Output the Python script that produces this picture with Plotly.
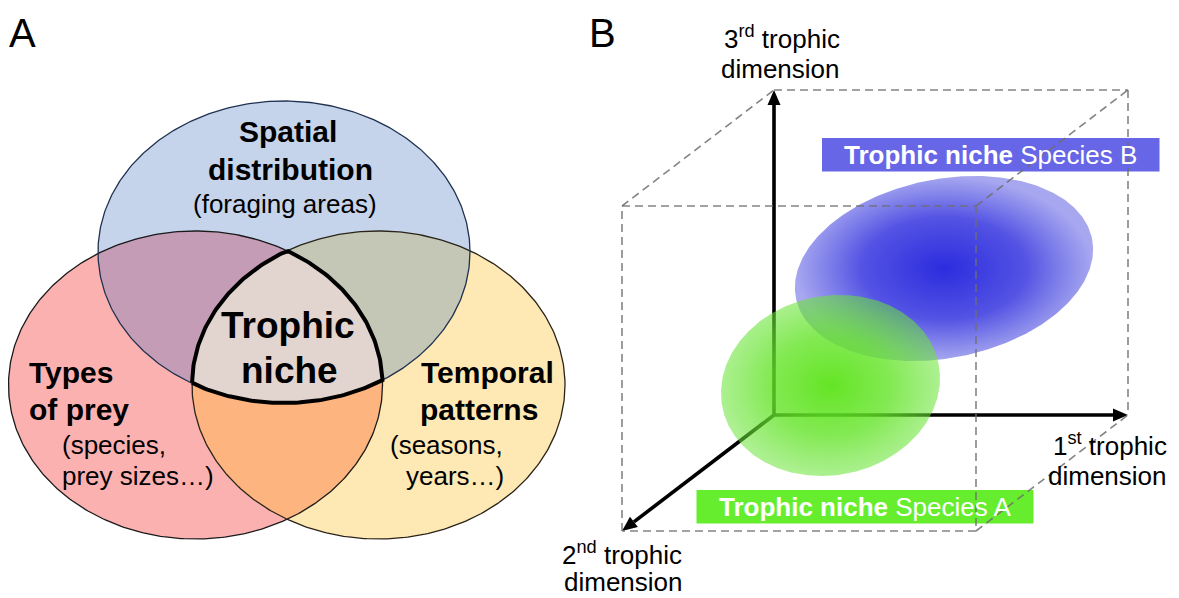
import numpy as np
import plotly.graph_objects as go

# ---------------- data ----------------
# Panel A: Venn sets (ellipse centre x/y, radii in px of the 1179x598 canvas)
SET_NAMES = ["Spatial distribution", "Types of prey", "Temporal patterns"]
SET_CX = [284.0, 195.5, 378.5]
SET_CY = [252.0, 385.0, 385.0]
SET_RX = [186.0, 187.0, 186.5]
SET_RY = [151.0, 154.0, 154.0]
SET_COLORS = ["#C5D3EB", "#FCB1B1", "#FEE8B4"]
PAIR_COLORS = {"01": "#C49CB6", "02": "#C4C6B6", "12": "#FDB47E"}
CORE_COLOR = "#E2D4CE"

# Panel B: niche ellipses (centre, semi-axes, tilt in degrees)
NICHE_NAMES = ["Species B", "Species A"]
NICHE_CX = [944.0, 830.5]
NICHE_CY = [268.5, 385.5]
NICHE_A = [151.0, 110.3]
NICHE_B = [89.4, 89.6]
NICHE_TILT = [11.3, 11.7]

# 3-D box: back face corners and the depth shift of the front face
BOX_X = [774.0, 1128.0]
BOX_Y = [90.0, 415.0]
DEPTH = [-152.0, 116.0]

W, H = 1179, 598
PAGE_MARGIN = 8  # default body margin of the html page
FONT = "Arial, Liberation Sans, sans-serif"


def ellipse(cx, cy, rx, ry, rot_deg=0.0, n=400):
    t = np.linspace(0, 2 * np.pi, n, endpoint=False)
    x, y = rx * np.cos(t), ry * np.sin(t)
    r = np.deg2rad(rot_deg)
    c, s = np.cos(r), np.sin(r)
    return np.column_stack([cx + x * c - y * s, cy + x * s + y * c])


def clip(subject, clipper):
    def area(p):
        return 0.5 * np.sum(p[:, 0] * np.roll(p[:, 1], -1) - np.roll(p[:, 0], -1) * p[:, 1])
    sgn = 1 if area(clipper) > 0 else -1
    out = [tuple(p) for p in subject]
    m = len(clipper)
    for i in range(m):
        a = clipper[i]
        b = clipper[(i + 1) % m]
        inp, out = out, []
        if not inp:
            break

        def inside(p):
            return sgn * ((b[0] - a[0]) * (p[1] - a[1]) - (b[1] - a[1]) * (p[0] - a[0])) >= 0

        def inter(p, q):
            x1, y1 = p; x2, y2 = q; x3, y3 = a; x4, y4 = b
            den = (x1 - x2) * (y3 - y4) - (y1 - y2) * (x3 - x4)
            t = ((x1 - x3) * (y3 - y4) - (y1 - y3) * (x3 - x4)) / den
            return (x1 + t * (x2 - x1), y1 + t * (y2 - y1))

        s = inp[-1]
        for e in inp:
            if inside(e):
                if not inside(s):
                    out.append(inter(s, e))
                out.append(e)
            elif inside(s):
                out.append(inter(s, e))
            s = e
    return np.array(out)


def closed(p):
    return np.vstack([p, p[:1]])


fig = go.Figure()


def poly(p, fillcolor=None, line_color=None, line_width=0, dash=None, fill=True, **kw):
    p = closed(p) if fill else p
    fig.add_trace(go.Scatter(
        x=p[:, 0], y=p[:, 1], mode="lines",
        fill="toself" if fill else None,
        fillcolor=fillcolor,
        line=dict(color=line_color or "rgba(0,0,0,0)", width=line_width, dash=dash),
        hoverinfo="skip", showlegend=False, **kw))


# ---------------- Panel A : Venn ----------------
E = [ellipse(SET_CX[i], SET_CY[i], SET_RX[i], SET_RY[i]) for i in range(3)]
poly(E[1], SET_COLORS[1])
poly(E[2], SET_COLORS[2])
poly(clip(E[1], E[2]), PAIR_COLORS["12"])
poly(E[0], SET_COLORS[0])
poly(clip(E[0], E[1]), PAIR_COLORS["01"])
poly(clip(E[0], E[2]), PAIR_COLORS["02"])
core = clip(clip(E[0], E[1]), E[2])
poly(core, CORE_COLOR)
# outlines
poly(closed(E[1]), fill=False, line_color="#1a1a1a", line_width=1.3)
poly(closed(E[2]), fill=False, line_color="#2a2418", line_width=1.3)
poly(closed(E[0]), fill=False, line_color="#1f3150", line_width=1.3)
poly(closed(core), fill=False, line_color="black", line_width=4)

# ---------------- Panel B ----------------
back = np.array([[BOX_X[0], BOX_Y[0]], [BOX_X[1], BOX_Y[0]],
                 [BOX_X[1], BOX_Y[1]], [BOX_X[0], BOX_Y[1]]])
front = back + np.array(DEPTH)
origin = back[3]

# solid axes with arrow heads (under the niche ellipses)
tips = [back[0], back[2], front[3]]
for tip in tips:
    d = tip - origin
    d = d / np.hypot(*d)
    nrm = np.array([-d[1], d[0]])
    base = tip - 15 * d
    poly(np.array([origin, base]), fill=False, line_color="black", line_width=3.6)
    poly(np.array([tip, base + 6.5 * nrm, base - 6.5 * nrm]), "black")

# niche ellipses with radial gradients
grad = [
    [[0, "rgba(40,40,222,0.98)"], [0.55, "rgba(45,45,222,0.82)"], [1, "rgba(60,60,222,0.45)"]],
    [[0, "rgba(95,228,30,0.97)"], [0.55, "rgba(100,228,40,0.8)"], [1, "rgba(105,228,55,0.55)"]],
]
for i in range(2):
    p = closed(ellipse(NICHE_CX[i], NICHE_CY[i], NICHE_A[i], NICHE_B[i], -NICHE_TILT[i]))
    fig.add_trace(go.Scatter(
        x=p[:, 0], y=p[:, 1], mode="lines", fill="toself",
        fillgradient=dict(type="radial", colorscale=grad[i]),
        line=dict(width=0, color="rgba(0,0,0,0)"),
        hoverinfo="skip", showlegend=False))

# label boxes
boxB = np.array([[822, 138], [1159.5, 138], [1159.5, 171.5], [822, 171.5]])
boxA = np.array([[696.5, 490], [1033.5, 490], [1033.5, 523.5], [696.5, 523.5]])
poly(boxB, "#6666E6")
poly(boxA, "#66EE2E")

# dashed cube edges
dash_col = "rgba(110,110,110,0.85)"
segments = [
    (back[0], back[1]), (back[1], back[2]),
    (front[0], front[1]), (front[1], front[2]), (front[2], front[3]), (front[3], front[0]),
    (front[0], back[0]), (front[1], back[1]), (front[2], back[2]),
]
for a, b in segments:
    poly(np.array([a, b]), fill=False, line_color=dash_col, line_width=1.6, dash="8px,5px")

# ---------------- text ----------------
ann = []


def txt(x, y, s, size, anchor="center", color="black", yanchor="middle"):
    ann.append(dict(x=x, y=y, text=s, showarrow=False, xanchor=anchor, yanchor=yanchor,
                    font=dict(family=FONT, size=size, color=color), xref="x", yref="y"))


txt(22, PAGE_MARGIN + 0.5, "A", 40, yanchor="top")
txt(602, PAGE_MARGIN + 0.5, "B", 40, yanchor="top")

txt(288, 131, "<b>Spatial</b>", 30)
txt(290, 169, "<b>distribution</b>", 30)
txt(285, 204, "(foraging areas)", 26)
txt(288, 325, "<b>Trophic</b>", 37)
txt(289, 370, "<b>niche</b>", 37)
txt(27, 372, "<b>Types</b>", 30, "left")
txt(27, 409, "<b>of prey</b>", 30, "left")
txt(60, 445, "(species,", 26, "left")
txt(60, 476, "prey sizes…)", 26, "left")
txt(419, 372, "<b>Temporal</b>", 30, "left")
txt(418, 409, "<b>patterns</b>", 30, "left")
txt(505, 445, "(seasons,", 26, "right")
txt(506, 476, "years…)", 26, "right")

txt(782, 37, "3<sup>rd</sup> trophic", 26)
txt(780, 68.6, "dimension", 26)
txt(1169, 444.6, "1<sup>st</sup> trophic", 26, "right")
txt(1169, 476, "dimension", 26, "right")
txt(622, 553, "2<sup>nd</sup> trophic", 26)
txt(623, 582, "dimension", 26)

txt(990.5, 155, "<b>Trophic niche</b> " + NICHE_NAMES[0], 26, color="white")
txt(865, 507, "<b>Trophic niche</b> " + NICHE_NAMES[1], 26, color="white")

fig.update_layout(
    width=W - PAGE_MARGIN, height=H - PAGE_MARGIN, autosize=False,
    margin=dict(l=0, r=0, t=0, b=0),
    paper_bgcolor="white", plot_bgcolor="white",
    xaxis=dict(range=[PAGE_MARGIN, W], visible=False, fixedrange=True),
    yaxis=dict(range=[H, PAGE_MARGIN], visible=False, fixedrange=True),
    annotations=ann, showlegend=False,
)
fig.write_html("out.html")
